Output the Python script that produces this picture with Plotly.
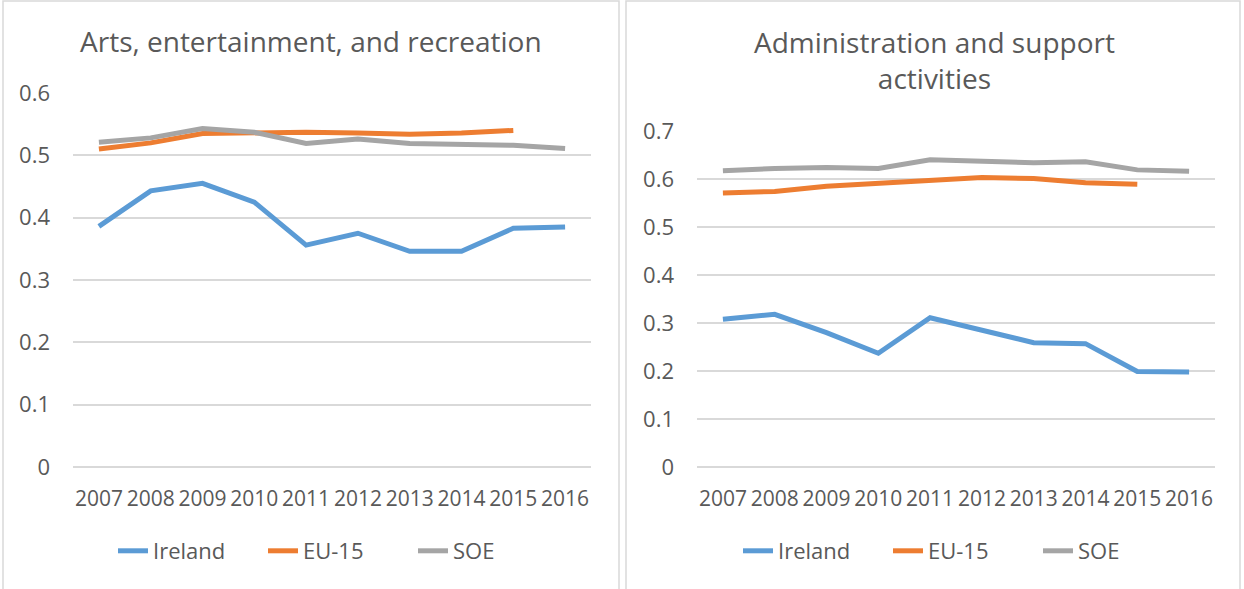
import plotly.graph_objects as go

# Shared categories and series names
years = ['2007', '2008', '2009', '2010', '2011', '2012', '2013', '2014', '2015', '2016']
series_names = ['Ireland', 'EU-15', 'SOE']
series_colors = ['#5B9BD5', '#ED7D31', '#A5A5A5']

# Left panel: Arts, entertainment, and recreation
arts_ireland = [0.386, 0.443, 0.455, 0.425, 0.356, 0.375, 0.346, 0.346, 0.383, 0.385]
arts_eu15 = [0.510, 0.520, 0.535, 0.536, 0.537, 0.536, 0.534, 0.536, 0.540, None]
arts_soe = [0.521, 0.528, 0.543, 0.537, 0.519, 0.526, 0.519, 0.518, 0.516, 0.511]
arts_ticks = [0, 0.1, 0.2, 0.3, 0.4, 0.5, 0.6]

# Right panel: Administration and support activities
admin_ireland = [0.308, 0.318, 0.280, 0.237, 0.311, 0.285, 0.259, 0.257, 0.199, 0.198]
admin_eu15 = [0.571, 0.574, 0.585, 0.591, 0.596, 0.603, 0.601, 0.592, 0.589, None]
admin_soe = [0.617, 0.622, 0.624, 0.622, 0.640, 0.638, 0.634, 0.636, 0.619, 0.616]
admin_ticks = [0, 0.1, 0.2, 0.3, 0.4, 0.5, 0.6, 0.7]

FONT = 'Open Sans'
TEXT_GREY = '#595959'
GRID_GREY = '#D9D9D9'
W, H = 1244, 589

fig = go.Figure()

panels = [
    (('x', 'y'), 'legend', [arts_ireland, arts_eu15, arts_soe]),
    (('x2', 'y2'), 'legend2', [admin_ireland, admin_eu15, admin_soe]),
]
for (xa, ya), leg, values in panels:
    for name, color, vals in zip(series_names, series_colors, values):
        fig.add_trace(go.Scatter(
            x=years, y=vals, name=name, mode='lines',
            line=dict(color=color, width=5),
            xaxis=xa, yaxis=ya, legend=leg,
        ))


# pixel -> paper helpers (pixels measured from top-left of the picture)
def px_x(p):
    return p / W


def px_y(p):
    return 1 - p / H


xtick_font = dict(family=FONT, size=21, color=TEXT_GREY)
ytick_font = dict(family=FONT, size=22, color=TEXT_GREY)
xcommon = dict(type='category', range=[-0.5, 9.5], showgrid=False, showline=False,
               ticks='', tickfont=xtick_font, tickangle=0, ticklabelstandoff=17,
               automargin=False, fixedrange=True)
ycommon = dict(showgrid=True, gridcolor=GRID_GREY, gridwidth=1.5, zeroline=True,
               zerolinecolor=GRID_GREY, zerolinewidth=1.5, showline=False, ticks='',
               tickfont=ytick_font, ticklabelstandoff=22, automargin=False, fixedrange=True)
legend_font = dict(family=FONT, size=22, color=TEXT_GREY)

fig.update_layout(
    width=W, height=H,
    margin=dict(l=0, r=0, t=0, b=0, autoexpand=False),
    paper_bgcolor='white', plot_bgcolor='white',
    font=dict(family=FONT, color=TEXT_GREY),
    xaxis=dict(domain=[px_x(73), px_x(591)], anchor='y', **xcommon),
    yaxis=dict(domain=[px_y(467), px_y(93)], anchor='x', range=[0, 0.6],
               tickvals=arts_ticks, ticktext=[f'{t:g}' for t in arts_ticks], **ycommon),
    xaxis2=dict(domain=[px_x(697), px_x(1215)], anchor='y2', **xcommon),
    yaxis2=dict(domain=[px_y(467), px_y(131)], anchor='x2', range=[0, 0.7],
                tickvals=admin_ticks, ticktext=[f'{t:g}' for t in admin_ticks], **ycommon),
    legend=dict(orientation='h', x=px_x(338), xanchor='center', y=px_y(551), yanchor='middle',
                font=legend_font, bgcolor='rgba(0,0,0,0)', entrywidth=105),
    legend2=dict(orientation='h', x=px_x(963), xanchor='center', y=px_y(551), yanchor='middle',
                 font=legend_font, bgcolor='rgba(0,0,0,0)', entrywidth=105),
    showlegend=True,
)

# Chart titles
fig.add_annotation(text='Arts, entertainment, and recreation', x=px_x(311), y=px_y(41),
                   xref='paper', yref='paper', showarrow=False, xanchor='center', yanchor='middle',
                   font=dict(family=FONT, size=28, color=TEXT_GREY))
fig.add_annotation(text='Administration and support<br>activities', x=px_x(934), y=px_y(60),
                   xref='paper', yref='paper', showarrow=False, xanchor='center', yanchor='middle',
                   font=dict(family=FONT, size=28, color=TEXT_GREY))

# Chart area borders
for x0, x1 in [(3, 619), (626, 1240)]:
    fig.add_shape(type='rect', xref='paper', yref='paper',
                  x0=px_x(x0), x1=px_x(x1), y0=px_y(600), y1=px_y(1),
                  line=dict(color=GRID_GREY, width=1.5), layer='below')

fig.write_html('out.html', config={'displayModeBar': False},
               post_script="document.body.style.margin='0';document.body.style.overflow='hidden';")
